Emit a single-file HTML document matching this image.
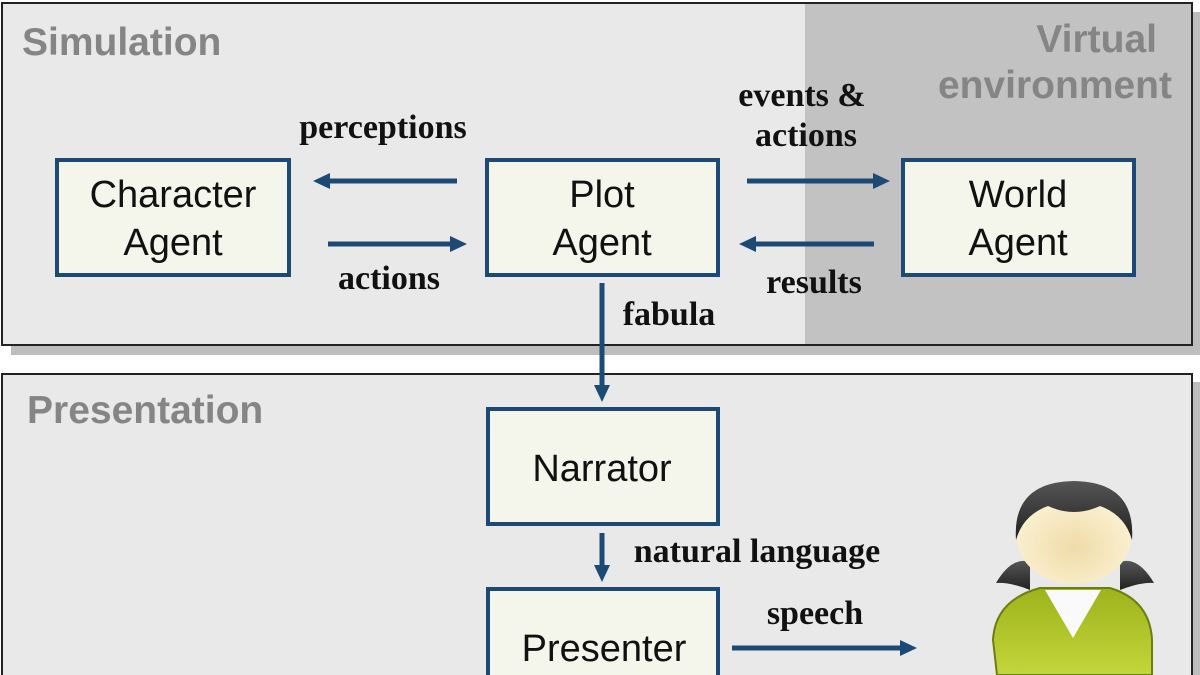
<!DOCTYPE html>
<html><head><meta charset="utf-8"><style>
html,body{margin:0;padding:0;background:#fff;width:1200px;height:675px;overflow:hidden}
svg{display:block}
.bx{fill:#f4f6ec;stroke:#1d4a75;stroke-width:4}
.bt{font-family:"Liberation Sans",sans-serif;font-size:38px;fill:#111;text-anchor:middle}
.lb{font-family:"Liberation Serif",serif;font-weight:bold;font-size:34px;fill:#111;text-anchor:middle}
.st{font-family:"Liberation Sans",sans-serif;font-weight:bold;font-size:39px;fill:#858585}
.ar{stroke:#1d4a75;stroke-width:5;fill:none}
.ah{fill:#1d4a75}
</style></head><body>
<svg width="1200" height="675" viewBox="0 0 1200 675">
<rect x="11" y="346" width="1189" height="9" fill="#bdbdbd"/>
<rect x="1193" y="12" width="7" height="343" fill="#bdbdbd"/>
<rect x="1193" y="382" width="7" height="293" fill="#bdbdbd"/>
<rect x="2" y="3" width="1190" height="342" fill="#e9e9e9" stroke="#222" stroke-width="2"/>
<rect x="805" y="4" width="386" height="340" fill="#c2c2c2"/>
<rect x="2" y="3" width="1190" height="342" fill="none" stroke="#222" stroke-width="2"/>
<rect x="2" y="374" width="1190" height="310" fill="#e9e9e9" stroke="#222" stroke-width="2"/>
<text class="st" x="22" y="55">Simulation</text>
<text class="st" x="1157" y="52" text-anchor="end">Virtual</text>
<text class="st" x="1172" y="98" text-anchor="end">environment</text>
<text class="st" x="27" y="423">Presentation</text>
<rect class="bx" x="57" y="160" width="232" height="115"/>
<text class="bt" x="173" y="207">Character</text><text class="bt" x="173" y="255">Agent</text>
<rect class="bx" x="487" y="160" width="231" height="115"/>
<text class="bt" x="602" y="207">Plot</text><text class="bt" x="602" y="255">Agent</text>
<rect class="bx" x="903" y="160" width="231" height="115"/>
<text class="bt" x="1018" y="207">World</text><text class="bt" x="1018" y="255">Agent</text>
<rect class="bx" x="488" y="409" width="230" height="115"/>
<text class="bt" x="602" y="481">Narrator</text>
<rect class="bx" x="488" y="589" width="230" height="110"/>
<text class="bt" x="604" y="661">Presenter</text>
<line class="ar" x1="457" y1="181" x2="328" y2="181"/><polygon class="ah" points="313,181 330,173 330,189"/>
<line class="ar" x1="328" y1="244" x2="452" y2="244"/><polygon class="ah" points="467,244 450,236 450,252"/>
<line class="ar" x1="747" y1="181" x2="875" y2="181"/><polygon class="ah" points="890,181 873,173 873,189"/>
<line class="ar" x1="874" y1="244" x2="755" y2="244"/><polygon class="ah" points="739,244 756,236 756,252"/>
<line class="ar" x1="602" y1="283" x2="602" y2="385"/><polygon class="ah" points="602,402 594,385 610,385"/>
<line class="ar" x1="602" y1="533" x2="602" y2="566"/><polygon class="ah" points="602,582 594,565 610,565"/>
<line class="ar" x1="732" y1="648" x2="900" y2="648"/><polygon class="ah" points="917,648 900,640 900,656"/>
<text class="lb" x="383" y="138">perceptions</text>
<text class="lb" x="389" y="289">actions</text>
<text class="lb" x="802" y="106">events &amp;</text>
<text class="lb" x="806" y="146">actions</text>
<text class="lb" x="814" y="293">results</text>
<text class="lb" x="669" y="325">fabula</text>
<text class="lb" x="757" y="562">natural language</text>
<text class="lb" x="815" y="624">speech</text>
<defs>
<radialGradient id="face" cx="0.5" cy="0.6" r="0.6"><stop offset="0" stop-color="#f0dba8"/><stop offset="1" stop-color="#fbf3d6"/></radialGradient>
<linearGradient id="body" x1="0" y1="0" x2="0" y2="1"><stop offset="0" stop-color="#9db31c"/><stop offset="1" stop-color="#c3d63a"/></linearGradient>
<linearGradient id="hair" x1="0" y1="0" x2="0" y2="1"><stop offset="0" stop-color="#555"/><stop offset="1" stop-color="#222"/></linearGradient>
</defs>
<path d="M997,675 L993,640 Q995,600 1040,588 L1110,588 Q1150,600 1152,640 L1152,675 Z" fill="url(#body)" stroke="#6d7d10" stroke-width="2"/>
<path d="M1045,590 L1073,638 L1101,590 Z" fill="#fafafa"/>
<path d="M996,583 Q1012,556 1030,562 L1030,590 Q1010,582 996,583 Z" fill="url(#hair)"/>
<path d="M1154,583 Q1138,556 1120,562 L1120,590 Q1140,582 1154,583 Z" fill="url(#hair)"/>
<ellipse cx="1074" cy="538" rx="57" ry="46" fill="url(#face)"/>
<path d="M1016,540 Q1012,482 1074,481 Q1136,482 1132,540 Q1125,515 1100,506 Q1074,518 1048,506 Q1023,515 1016,540 Z" fill="url(#hair)"/>
</svg>
</body></html>
